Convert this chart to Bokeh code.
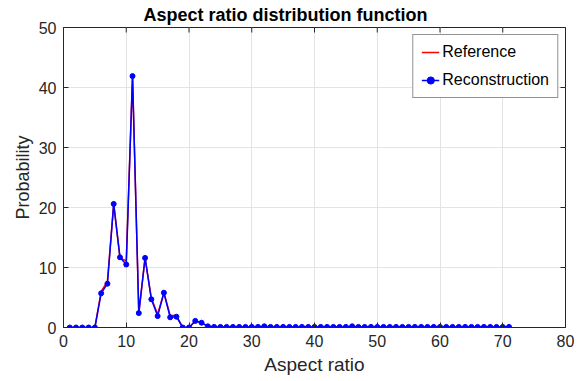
import math
from bokeh.plotting import figure
from bokeh.models import Range1d, Legend, LegendItem, FixedTicker
from bokeh.embed import file_html
from bokeh.resources import INLINE

x_vals = list(range(1, 72))
recon = [0, 0, 0, 0, 0, 5.7, 7.3, 20.6, 11.7, 10.5,
         41.9, 2.4, 11.6, 4.7, 1.9, 5.8, 1.7, 1.8, 0, 0,
         1.1, 0.8, 0.2, 0.1, 0.1, 0.1, 0.1, 0.1, 0.1, 0.1,
         0.1, 0.2, 0.1, 0.1, 0.1, 0.1, 0.1, 0.1, 0.1, 0.1,
         0.1, 0.1, 0.1, 0.1, 0.1, 0.2, 0.1, 0.1, 0.1, 0.1,
         0.1, 0.1, 0.1, 0.1, 0.1, 0.1, 0.1, 0.1, 0.1, 0.1,
         0.1, 0.1, 0.1, 0.1, 0.1, 0.1, 0.1, 0.1, 0.1, 0.1, 0.1]
reference = [0, 0, 0, 0, 0, 6.0, 7.7, 20.6, 11.6, 11.1,
             41.9, 2.4, 11.6, 4.9, 2.2, 5.8, 2.0, 2.0, 0, 0,
             1.1, 0.8, 0.2, 0.1, 0.1, 0.1, 0.1, 0.1, 0.1, 0.1,
             0.1, 0.2, 0.1, 0.1, 0.1, 0.1, 0.1, 0.1, 0.1, 0.1,
             0.1, 0.1, 0.1, 0.1, 0.1, 0.2, 0.1, 0.1, 0.1, 0.1,
             0.1, 0.1, 0.1, 0.1, 0.1, 0.1, 0.1, 0.1, 0.1, 0.1,
             0.1, 0.1, 0.1, 0.1, 0.1, 0.1, 0.1, 0.1, 0.1, 0.1, 0.1]
x_ticks = [0, 10, 20, 30, 40, 50, 60, 70, 80]
y_ticks = [0, 10, 20, 30, 40, 50]
x_max = 80
y_max = 50

FONT = "Liberation Sans"
AX = "#262626"

p = figure(width=577, height=381, output_backend="svg", toolbar_location=None,
           x_range=Range1d(0, x_max), y_range=Range1d(0, y_max),
           min_border_left=63, min_border_right=12, min_border_top=27, min_border_bottom=54)
p.title.text = "Aspect ratio distribution function"
p.title.align = "left"
p.title.offset = 80
p.title.text_font = FONT
p.title.text_font_size = "18px"
p.title.text_font_style = "bold"
p.title.text_color = "black"
p.title.standoff = 5

for ax, ticks in ((p.xaxis[0], x_ticks), (p.yaxis[0], y_ticks)):
    ax.ticker = FixedTicker(ticks=ticks)
    ax.major_tick_in = 5
    ax.major_tick_out = 0
    ax.minor_tick_in = 0
    ax.minor_tick_out = 0
    ax.axis_line_color = AX
    ax.major_tick_line_color = AX
    ax.major_label_text_font = FONT
    ax.major_label_text_font_size = "16px"
    ax.major_label_text_color = AX
    ax.axis_label_text_font = FONT
    ax.axis_label_text_font_style = "normal"
    ax.axis_label_text_color = AX
p.xaxis.axis_label = "Aspect ratio"
p.yaxis.axis_label = "Probability"
p.xaxis.axis_label_text_font_size = "19px"
p.yaxis.axis_label_text_font_size = "18px"
p.xaxis.major_label_standoff = 7
p.yaxis.major_label_standoff = 7
p.xaxis.axis_label_standoff = 4
p.yaxis.axis_label_standoff = 3

p.xgrid.ticker = FixedTicker(ticks=x_ticks)
p.ygrid.ticker = FixedTicker(ticks=y_ticks)
p.grid.grid_line_color = "#e3e3e3"
p.outline_line_color = AX

# inward tick marks on the top and right edges of the box
p.scatter(x_ticks, [y_max] * len(x_ticks), marker="dash", size=10,
          angle=math.pi / 2, line_color=AX, line_width=1)
p.scatter([x_max] * len(y_ticks), y_ticks, marker="dash", size=10,
          line_color=AX, line_width=1)

r1 = p.line(x_vals, reference, line_color="#ff0000", line_width=1.5)
r2 = p.line(x_vals, recon, line_color="#0000ff", line_width=1.5)
r3 = p.scatter(x_vals, recon, size=5, fill_color="#0000ff", line_color="#0000ff")

legend = Legend(items=[LegendItem(label="Reference", renderers=[r1]),
                       LegendItem(label="Reconstruction", renderers=[r2, r3])],
                location="top_right")
legend.label_text_font = FONT
legend.label_text_font_size = "16px"
legend.label_text_color = "black"
legend.border_line_color = "#262626"
legend.border_line_width = 1
legend.glyph_width = 18
legend.glyph_height = 18
legend.label_height = 18
legend.label_standoff = 3
legend.spacing = 10
legend.padding = 8
legend.margin = 7
legend.background_fill_color = "white"
legend.background_fill_alpha = 1
p.add_layout(legend)

open("out.html", "w").write(file_html(p, INLINE))
